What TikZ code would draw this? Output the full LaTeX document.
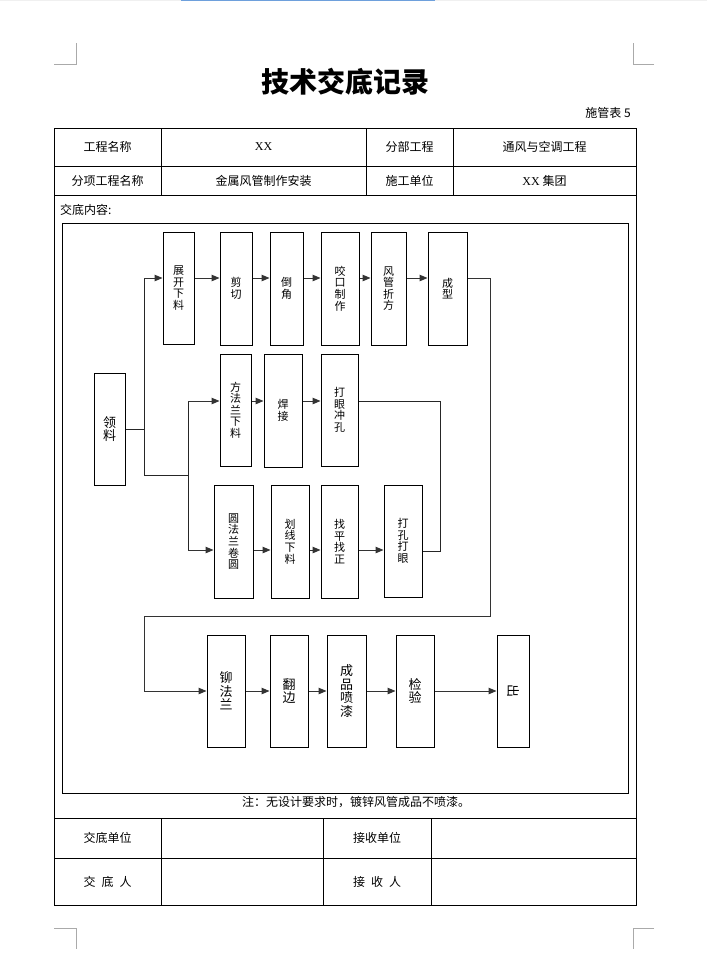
\documentclass[tikz,border=0pt]{standalone}
\usepackage{fontspec}
\setmainfont{Noto Sans CJK SC}
\newfontfamily\xxfont{Liberation Serif}
\usetikzlibrary{arrows.meta}
\definecolor{topblue}{RGB}{110,160,220}
\definecolor{cornergray}{RGB}{170,170,170}
\begin{document}
\begin{tikzpicture}[x=1pt,y=-1pt,
  fbox/.style={draw, line width=1pt, inner sep=0pt, align=center, font=\fontsize{11}{11.6}\selectfont},
  bbox/.style={fbox, font=\fontsize{13}{13.5}\selectfont},
  arr/.style={line width=1pt, black!80, -{Triangle[length=8pt,width=6.5pt]}},
  conn/.style={line width=1pt, black!85},
  tline/.style={line width=1pt},
  corner/.style={line width=0.8pt, cornergray},
  ttext/.style={font=\fontsize{12}{14}\selectfont, inner sep=0pt}]

\useasboundingbox (0,0) rectangle (707,961);
\fill[white] (0,0) rectangle (707,961);

% page marks
\draw[line width=0.6pt, black!6] (0,0.5) -- (707,0.5);
\draw[line width=1.2pt, topblue] (181,0.6) -- (435,0.6);
\draw[corner] (54,64) -- (76,64) -- (76,43);
\draw[corner] (654,64) -- (633,64) -- (633,43);
\draw[corner] (54,928) -- (76,928) -- (76,949);
\draw[corner] (654,928) -- (633,928) -- (633,949);

% title
\node[font=\fontsize{28}{30}\selectfont\bfseries, inner sep=0pt] (title) at (345,82) {技术交底记录};
\node[ttext, anchor=east] (sgb) at (631,113) {施管表 5};

% table
\draw[tline] (54,128) rectangle (636,905);
\draw[tline] (54,166) -- (636,166);
\draw[tline] (54,195) -- (636,195);
\draw[tline] (54,818) -- (636,818);
\draw[tline] (54,858) -- (636,858);
\draw[tline] (161,128) -- (161,195);
\draw[tline] (366,128) -- (366,195);
\draw[tline] (453,128) -- (453,195);
\draw[tline] (161,818) -- (161,905);
\draw[tline] (323,818) -- (323,905);
\draw[tline] (431,818) -- (431,905);
\draw[tline] (62,223) rectangle (628,793);

\node[ttext] (t11) at (107.5,147) {工程名称};
\node[ttext] (t12) at (263.5,147) {\xxfont XX};
\node[ttext] (t13) at (409.5,147) {分部工程};
\node[ttext] (t14) at (544.5,147) {通风与空调工程};
\node[ttext] (t21) at (107.5,180.5) {分项工程名称};
\node[ttext] (t22) at (263.5,180.5) {金属风管制作安装};
\node[ttext] (t23) at (409.5,180.5) {施工单位};
\node[ttext] (t24) at (544.5,180.5) {{\xxfont XX} 集团};
\node[ttext, anchor=west] (jdnr) at (60,210) {交底内容:};
\node[ttext] (note) at (356,802) {注：无设计要求时，镀锌风管成品不喷漆。};
\node[ttext] (t41) at (107.5,838) {交底单位};
\node[ttext] (t43) at (377,838) {接收单位};
\node[ttext] (t51) at (107.5,881.5) {交\hspace{0.5em}底\hspace{0.5em}人};
\node[ttext] (t53) at (377,881.5) {接\hspace{0.5em}收\hspace{0.5em}人};

% flow boxes
\node[fbox, minimum width=31pt, minimum height=112pt, font=\fontsize{13}{13.5}\selectfont] (ll) at (109.5,429) {领\\料};

\node[fbox, minimum width=31pt, minimum height=112pt] (zk) at (178.5,288) {展\\开\\下\\料};
\node[fbox, minimum width=32pt, minimum height=113pt] (jq) at (236,288.5) {剪\\切};
\node[fbox, minimum width=33pt, minimum height=113pt] (dj) at (286.5,288.5) {倒\\角};
\node[fbox, minimum width=38pt, minimum height=113pt] (yk) at (340,288.5) {咬\\口\\制\\作};
\node[fbox, minimum width=35pt, minimum height=113pt] (fg) at (388.5,288.5) {风\\管\\折\\方};
\node[fbox, minimum width=39pt, minimum height=113pt] (cx) at (447.5,288.5) {成\\型};

\node[fbox, minimum width=31pt, minimum height=112pt] (ff) at (235.5,410) {方\\法\\兰\\下\\料};
\node[fbox, minimum width=38pt, minimum height=113pt] (hj) at (283,410.5) {焊\\接};
\node[fbox, minimum width=37pt, minimum height=112pt] (dy) at (339.5,410) {打\\眼\\冲\\孔};

\node[fbox, minimum width=39pt, minimum height=113pt] (yf) at (233.5,541.5) {圆\\法\\兰\\卷\\圆};
\node[fbox, minimum width=38pt, minimum height=113pt] (hx) at (290,541.5) {划\\线\\下\\料};
\node[fbox, minimum width=37pt, minimum height=113pt] (zp) at (339.5,541.5) {找\\平\\找\\正};
\node[fbox, minimum width=38pt, minimum height=112pt] (dk) at (403,541) {打\\孔\\打\\眼};

\node[bbox, minimum width=38pt, minimum height=112pt] (mf) at (226,691) {铆\\法\\兰};
\node[bbox, minimum width=38pt, minimum height=112pt] (fb) at (289,691) {翻\\边};
\node[bbox, minimum width=39pt, minimum height=112pt] (cp) at (346.5,691) {成\\品\\喷\\漆};
\node[bbox, minimum width=38pt, minimum height=112pt] (jy) at (415,691) {检\\验};
\node[bbox, minimum width=32pt, minimum height=112pt] (cc) at (513,691) {\rotatebox{-90}{出}};

% junction coordinates
\coordinate (j1) at (144,278);
\coordinate (j2) at (144,475);
\coordinate (j3) at (188,475);
\coordinate (j4) at (188,401);
\coordinate (j5) at (188,550);
\coordinate (k1) at (440,401);
\coordinate (k2) at (440,551);
\coordinate (m1) at (490,278);
\coordinate (m2) at (490,616);
\coordinate (m3) at (144,616);
\coordinate (m4) at (144,691);

% connectors
\draw[conn] (ll.east) -- (ll.east -| j1);
\draw[conn] (j1) -- (j2) -- (j3);
\draw[conn] (j4) -- (j5);
\draw[arr] (j1) -- (zk.west |- j1);
\draw[arr] (zk.east |- j1) -- (jq.west |- j1);
\draw[arr] (jq.east |- j1) -- (dj.west |- j1);
\draw[arr] (dj.east |- j1) -- (yk.west |- j1);
\draw[arr] (yk.east |- j1) -- (fg.west |- j1);
\draw[arr] (fg.east |- j1) -- (cx.west |- j1);

\draw[arr] (j4) -- (ff.west |- j4);
\draw[arr] (ff.east |- j4) -- (hj.west |- j4);
\draw[arr] (hj.east |- j4) -- (dy.west |- j4);
\draw[conn] (dy.east |- j4) -- (k1) -- (k2) -- (dk.east |- k2);

\draw[arr] (j5) -- (yf.west |- j5);
\draw[arr] (yf.east |- j5) -- (hx.west |- j5);
\draw[arr] (hx.east |- j5) -- (zp.west |- j5);
\draw[arr] (zp.east |- j5) -- (dk.west |- j5);

\draw[arr] (cx.east |- j1) -- (m1) -- (m2) -- (m3) -- (m4) -- (mf.west |- m4);
\draw[arr] (mf.east |- m4) -- (fb.west |- m4);
\draw[arr] (fb.east |- m4) -- (cp.west |- m4);
\draw[arr] (cp.east |- m4) -- (jy.west |- m4);
\draw[arr] (jy.east |- m4) -- (cc.west |- m4);
\end{tikzpicture}
\end{document}
